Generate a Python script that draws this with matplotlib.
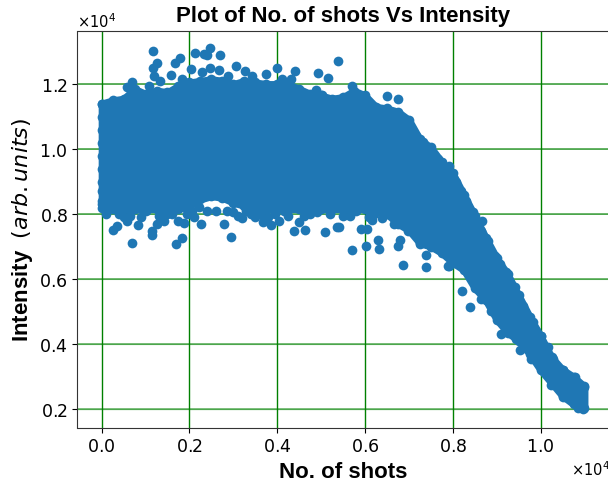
import matplotlib
matplotlib.use("Agg")
import matplotlib.pyplot as plt

# dense part of the cloud: centre of top / bottom edge dots
band_x = [0, 250, 500, 750, 1000, 1250, 1500, 1750, 2000, 2250, 2500, 2750, 3000, 3250, 3500, 3750,
          4000, 4250, 4500, 4750, 5000, 5250, 5500, 5750, 6000, 6250, 6500, 6750, 7000, 7250, 7500,
          7750, 8000, 8250, 8500, 8750, 9000, 9250, 9500, 9750, 10000, 10250, 10500, 10750, 11000]
band_hi = [11400, 11500, 11550, 11850, 11700, 11800, 11750, 11950, 12050, 12100, 12150, 12100, 12000,
           12100, 12050, 12000, 12000, 12000, 11850, 11700, 11650, 11550, 11600, 11800, 11650, 11300,
           11250, 11150, 10900, 10300, 10050, 9600, 9250, 8600, 7950, 7280, 6650, 6150, 5500, 4850,
           4250, 3600, 3220, 3000, 2700]
band_lo = [8300, 8150, 8150, 8150, 8150, 8150, 8150, 8150, 8250, 8450, 8550, 8500, 8350, 8250, 8200,
           8150, 8150, 8150, 8150, 8150, 8150, 8150, 8150, 8150, 8150, 8150, 8000, 7700, 7500, 7100,
           7000, 6800, 6500, 6280, 5720, 5350, 4750, 4350, 4100, 3700, 3200, 2800, 2400, 2150, 2050]

# loose dots outside the dense part
top_x = [1160, 1250, 1180, 1200, 1320, 1790, 1680, 1590, 2130, 2340, 2410, 2470, 2700, 3060, 2040, 2470,
         2680, 3270, 3750, 4000, 4400, 4930, 5150, 5380, 5700, 6490, 6760, 570, 700, 1090, 1820, 2290,
         2880, 3430, 4110, 4310, 4880, 5020]
top_y = [13020, 12650, 12490, 12250, 12090, 12800, 12650, 12280, 12950, 12920, 12890, 13110, 12890, 12550,
         12460, 12490, 12430, 12400, 12310, 12490, 12400, 12340, 12180, 12710, 11940, 11630, 11540, 11910,
         12060, 11940, 12150, 12370, 12250, 12250, 12150, 12150, 11820, 11660]
low_x = [0, 250, 340, 570, 820, 700, 1140, 1140, 1270, 1430, 1700, 1820, 1730, 1880, 2110, 2270, 2790,
         2950, 2860, 3200, 3500, 3680, 3860, 4040, 4380, 4630, 4490, 5080, 5360, 5400, 5920, 6040, 6170,
         6380, 6290, 6330, 5700, 6020, 6790, 6760, 7400, 6860, 7380, 7920, 7260, 7630, 6650, 6990, 8220,
         8400, 7900, 9530, 9100, 10010, 8670, 8880, 2410, 2220]
low_y = [8180, 7500, 7630, 7780, 7660, 7100, 7470, 7350, 7690, 7780, 7070, 7260, 7780, 7720, 7900, 7690,
         7690, 7290, 8090, 7870, 7900, 7750, 7660, 7780, 7470, 7500, 7750, 7440, 7600, 7600, 7530, 7530,
         7810, 7870, 7200, 6920, 6890, 7010, 7200, 7010, 6730, 6430, 6360, 6390, 7070, 6980, 7690, 7470,
         5650, 5130, 6390, 3810, 4300, 4240, 7780, 5010, 8090, 8210]
# bumps along the underside of the cloud
fringe_x = [100, 400, 500, 650, 900, 1000, 1300, 1500, 1600, 1950, 2050, 2600, 3000, 3100, 3300, 3400, 3600,
            3800, 3950, 4150, 4250, 4600, 4750, 4900, 5200, 5500, 5650, 5800, 6100, 6200]
fringe_y = [8000, 8000, 7900, 7950, 7900, 8100, 7950, 8000, 8000, 8000, 8100, 8100, 8050, 7950, 8100, 8000,
            8000, 7900, 8000, 8100, 7950, 7950, 8000, 8050, 8000, 7950, 7950, 8100, 7900, 8000]
# dots on the falling edges, top then bottom
tail_x = [7170, 7330, 7670, 7920, 7950, 8080, 8190, 8290, 8470, 8650, 8810, 8970, 9080, 9220, 9420, 9600, 9670,
          9830, 9900, 10170, 10280, 10510, 10780, 10990, 8170, 8650, 9440, 9780, 10240, 10510, 10850, 10960]
tail_y = [10400, 10210, 9690, 9470, 9230, 8980, 8700, 8400, 8060, 7470, 7160, 6700, 6460, 6210, 5750, 5160, 4920,
          4670, 4390, 3900, 3530, 3220, 2980, 2670, 6460, 5380, 4150, 3530, 2730, 2390, 2050, 2000]
# left end of the cloud
end_x = [0, 0, 0, 0, 0, 0, 0, 0, 0]
end_y = [11400, 11000, 10600, 10200, 9800, 9400, 9000, 8700, 8400]

blue = "#1f77b4"
ms = 7

fig = plt.figure(figsize=(6.08, 4.85), dpi=100)
ax = fig.add_axes([77.5 / 608, 1 - 428.5 / 485, 532 / 608, 396.8 / 485])

# thin round outline closes the notches between the edge dots
ax.fill_between(band_x, band_lo, band_hi, facecolor=blue, edgecolor=blue, lw=5, joinstyle="round", zorder=2)
for xs, ys in [(band_x, band_hi), (band_x, band_lo), (top_x, top_y), (low_x, low_y),
               (fringe_x, fringe_y), (tail_x, tail_y), (end_x, end_y)]:
    ax.plot(xs, ys, "o", color=blue, ms=ms, mew=0)

ax.set_xlim(-550, 11570)
ax.set_ylim(1437, 13640)
ax.set_xticks([0, 2000, 4000, 6000, 8000, 10000])
ax.set_yticks([2000, 4000, 6000, 8000, 10000, 12000])
ax.ticklabel_format(style="sci", scilimits=(0, 0), useMathText=True)
ax.tick_params(labelsize=12.5)
ax.xaxis.get_offset_text().set_fontsize(10.5)
ax.yaxis.get_offset_text().set_fontsize(10.5)
ax.grid(color="green", lw=1.0)
for line in ax.get_ygridlines():
    line.set_snap(False)
    line.set_linewidth(1.3)
    line.set_alpha(0.7)

ax.set_title("Plot of No. of shots Vs Intensity", fontsize=16, fontweight="bold",
             family="Liberation Sans", pad=7)
ax.set_xlabel("No. of shots", fontsize=16, fontweight="bold", family="Liberation Sans", labelpad=4)
ax.set_ylabel(r"Intensity  $(arb. units)$", fontsize=16, fontweight="bold",
              family="Liberation Sans", labelpad=3)
for spine in ax.spines.values():
    spine.set_color("#333333")

fig.savefig("out.png", dpi=100)
